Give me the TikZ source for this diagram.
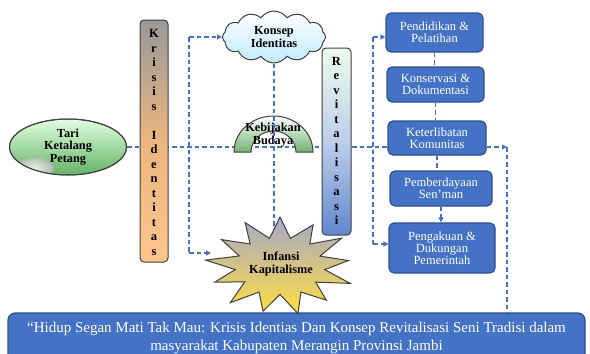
\documentclass[tikz,border=0pt]{standalone}
\usepackage{fontspec}
\setmainfont{Liberation Serif}
\usetikzlibrary{shapes.geometric,shapes.symbols,arrows.meta,calc,fadings}
\pgfdeclarelayer{background}
\pgfsetlayers{background,main}
\definecolor{boxblue}{HTML}{4472C4}
\definecolor{boxedge}{HTML}{2F4F8A}
\definecolor{lineblue}{HTML}{4A72C4}
\definecolor{edgegray}{HTML}{404040}
\begin{document}
\begin{tikzpicture}[x=1pt,y=-1pt,
  conn/.style={lineblue, line width=1.3pt, dash pattern=on 4.5pt off 3pt},
  arr/.style={conn, -{Triangle[length=5pt,width=5pt]}},
  bluebox/.style={draw=boxedge, line width=1.2pt, fill=boxblue, rounded corners=5pt,
    text=white, font=\fontsize{12.5}{12}\selectfont, align=center, inner sep=0pt},
  blacktext/.style={font=\bfseries\fontsize{12.3}{12.8}\selectfont, align=center, text=black},
  barletters/.style={font=\bfseries\fontsize{12.5}{14.5}\selectfont, align=center},
  bar/.style={draw=edgegray, line width=1pt, rounded corners=4pt, inner sep=0pt}
]
\useasboundingbox (0,0) rectangle (590,354);

% main nodes
\node[ellipse, draw=edgegray, line width=1pt, minimum width=117, minimum height=56,
  top color=green!12!white, bottom color=green!50!black!60!white, inner sep=0pt]
  (tari) at (68,147) {};
\begin{scope}
  \clip (68,147) ellipse [x radius=58pt, y radius=27.5pt];
  \shade[inner color=white, outer color=gray!60!white, path fading=circle with fuzzy edge 20 percent, opacity=0.8]
    (34,168) ellipse [x radius=22pt, y radius=12pt];
\end{scope}
\node[ellipse, draw=edgegray, line width=1pt, minimum width=117, minimum height=56,
  blacktext, inner sep=0pt] (taritext) at (68,147) {Tari\\Ketalang\\Petang};

\node[bar, minimum width=28, minimum height=242, top color=gray!85!black!70!white,
  bottom color=orange!45!white, middle color=orange!50!white!85!gray]
  (krisis) at (154,141) {};
\node[barletters] (kristext) at (154,142.5)
  {K\\r\\i\\s\\i\\s\\[14.5pt]I\\d\\e\\n\\t\\i\\t\\a\\s};

\node[cloud, cloud puffs=12, cloud puff arc=110, aspect=2, draw=edgegray, line width=1pt,
  minimum width=103, minimum height=52, top color=white, bottom color=blue!30!cyan!25!white,
  blacktext, inner sep=0pt] (cloud) at (274,37) {Konsep\\Identitas};

\node[bar, minimum width=29, minimum height=187, top color=gray!20!green!8!white,
  bottom color=boxblue!85!white, middle color=boxblue!35!white]
  (revit) at (336.5,141.5) {};
\node[barletters] (revtext) at (336.5,141)
  {R\\e\\v\\i\\t\\a\\l\\i\\s\\a\\s\\i};

\node[bluebox, minimum width=97, minimum height=39] (pend) at (434.5,32.5) {Pendidikan \&\\Pelatihan};
\node[bluebox, minimum width=97, minimum height=35] (kons) at (435.5,84.5) {Konservasi \&\\Dokumentasi};
\node[bluebox, minimum width=98, minimum height=34] (keter) at (437,138) {Keterlibatan\\Komunitas};
\node[bluebox, minimum width=102, minimum height=35] (pemb) at (441,188.5) {Pemberdayaan\\Sen'man};
\node[bluebox, minimum width=106, minimum height=50] (peng) at (442,248) {Pengakuan \&\\Dukungan\\Pemerintah};

\node[draw=boxedge, line width=1.2pt, fill=boxblue, rounded corners=7pt, text=white,
  minimum width=577, minimum height=50, align=center, inner sep=0pt,
  font=\fontsize{15}{17.5}\selectfont] (bottom) at (296.5,338)
  {``Hidup Segan Mati Tak Mau: Krisis Identias Dan Konsep Revitalisasi Seni Tradisi dalam\\
   masyarakat Kabupaten Merangin Provinsi Jambi};

% coordinates for connector ends
\coordinate (kvtop) at (189,37);
\coordinate (kvbot) at (189,253);
\coordinate (starL) at (211,253);
\coordinate (startop) at (274,229);
\coordinate (lvtop) at (373,37);
\coordinate (lvbot) at (373,244);
\coordinate (rt) at (507,147);

% connectors (behind shapes)
\begin{pgfonlayer}{background}
  \draw[conn] (tari.east) -- (tari.east -| keter.west);
  \draw[conn] (kvtop) -- (kvbot);
  \draw[conn] (lvtop) -- (lvbot);
\end{pgfonlayer}
\draw[arr] (kvtop) -- (kvtop -| cloud.west);
\draw[arr] (kvbot) -- (starL);
\draw[arr] (lvtop) -- (lvtop -| pend.west);
\draw[arr] (lvbot) -- (lvbot -| peng.west);
\draw[conn] (pend.south) -- (pend.south |- kons.north);
\draw[conn] (kons.south) -- (kons.south |- keter.north);
\draw[conn] (keter.south) -- (keter.south |- pemb.north);
\draw[arr] (pemb.south) -- (pemb.south |- peng.north);
\draw[arr] (tari.east -| keter.east) -- (rt);
\draw[conn] (rt) -- (rt |- bottom.north);

% Kebijakan Budaya arch
\path[draw=edgegray, line width=1pt, top color=white, bottom color=green!45!black!55!white]
  (234,152) arc[start angle=180, end angle=0, x radius=39.5pt, y radius=36pt]
  -- (296,152) arc[start angle=0, end angle=180, x radius=22.5pt, y radius=21pt] -- cycle;
\node[blacktext] (kebijakan) at (273,135) {Kebijakan\\Budaya};
\draw[conn] (cloud.south) -- (startop);

% Infansi Kapitalisme star
\path[draw=edgegray, line width=1pt, top color=blue!25!gray!55!white, bottom color=yellow!65!orange!75!white]
  (280,217) \foreach \k/\r in {1/0.58,2/0.95,3/0.6,4/1.0,5/0.57,6/0.92,7/0.6,8/1.0,9/0.58,10/0.93,11/0.6,12/1.0,13/0.58,14/0.95,15/0.6,16/1.0,17/0.57,18/0.93,19/0.6,20/1.0,21/0.58,22/0.95,23/0.6,24/1.0,25/0.58}
  { -- ({280+75*\r*sin(\k*360/26)},{266-49*\r*cos(\k*360/26)}) } -- cycle;
\node[blacktext] (star) at (281,264) {Infansi\\Kapitalisme};

\end{tikzpicture}
\end{document}
